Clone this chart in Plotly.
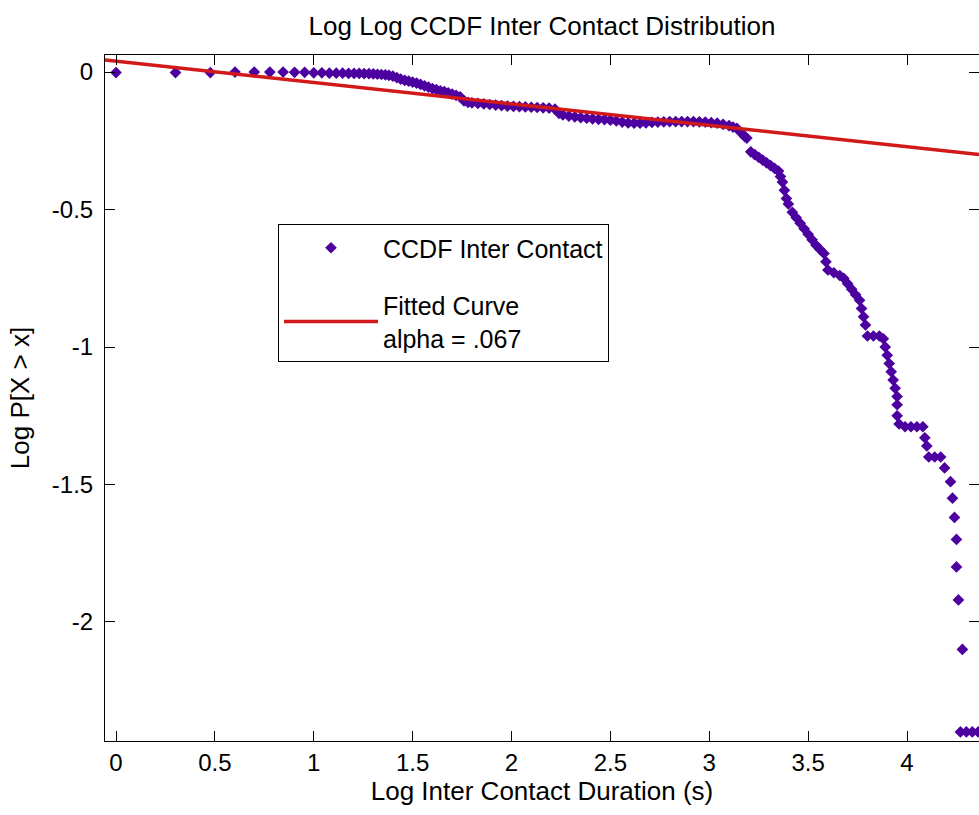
import plotly.graph_objects as go

# ---- data ----
ccdf_log_x = [
    0.0, 0.301, 0.477, 0.602, 0.699, 0.778, 0.845, 0.903, 0.954,
    1.0, 1.041, 1.079, 1.114, 1.146, 1.176, 1.204, 1.23, 1.255, 1.279,
    1.301, 1.322, 1.342, 1.362, 1.38, 1.40, 1.42, 1.44, 1.46, 1.48,
    1.50, 1.52, 1.54, 1.56, 1.58, 1.60, 1.62, 1.64, 1.66, 1.68,
    1.70, 1.72, 1.74, 1.76, 1.78, 1.80, 1.83, 1.86, 1.89, 1.92,
    1.95, 1.98, 2.01, 2.04, 2.07, 2.10, 2.13, 2.16, 2.19, 2.22,
    2.24, 2.26, 2.29, 2.32, 2.35, 2.38, 2.41, 2.44, 2.47, 2.50,
    2.53, 2.56, 2.59, 2.62, 2.65, 2.68, 2.71, 2.74, 2.77, 2.80,
    2.83, 2.86, 2.89, 2.92, 2.95, 2.98, 3.01, 3.04, 3.07, 3.10,
    3.12, 3.14, 3.16, 3.18, 3.19, 3.21, 3.23, 3.25, 3.27, 3.29,
    3.31, 3.33, 3.35, 3.36, 3.37, 3.38, 3.39, 3.40, 3.42, 3.44,
    3.46, 3.48, 3.50, 3.52, 3.54, 3.56, 3.58, 3.59, 3.60, 3.63,
    3.66, 3.68, 3.70, 3.72, 3.74, 3.76, 3.77, 3.78, 3.79, 3.80,
    3.83, 3.86, 3.88, 3.89, 3.90, 3.91, 3.92, 3.93, 3.94, 3.95,
    3.95, 3.95, 3.96, 3.99, 4.02, 4.05, 4.08, 4.09, 4.10, 4.11,
    4.14, 4.17, 4.19, 4.22, 4.23, 4.24, 4.25, 4.25, 4.26, 4.28,
    4.27, 4.30, 4.33, 4.36,
]
ccdf_log_p = [
    -0.002, -0.002, -0.002, 0.0, 0.0, 0.0, 0.0, -0.001, -0.001,
    -0.003, -0.003, -0.004, -0.004, -0.004, -0.005, -0.005, -0.005, -0.006, -0.006,
    -0.007, -0.008, -0.009, -0.010, -0.012, -0.015, -0.020, -0.026, -0.030, -0.033,
    -0.037, -0.040, -0.045, -0.050, -0.055, -0.060, -0.064, -0.068, -0.071, -0.076,
    -0.080, -0.085, -0.090, -0.105, -0.110, -0.112, -0.114, -0.116, -0.118, -0.120,
    -0.122, -0.124, -0.125, -0.126, -0.127, -0.128, -0.129, -0.130, -0.131, -0.135,
    -0.150, -0.156, -0.160, -0.163, -0.166, -0.168, -0.170, -0.172, -0.173, -0.175,
    -0.178, -0.182, -0.185, -0.186, -0.186, -0.185, -0.183, -0.182, -0.181, -0.180,
    -0.180, -0.180, -0.180, -0.180, -0.181, -0.182, -0.184, -0.186, -0.190, -0.195,
    -0.200, -0.205, -0.220, -0.235, -0.240, -0.290, -0.300, -0.310, -0.320, -0.330,
    -0.340, -0.350, -0.360, -0.380, -0.400, -0.430, -0.460, -0.480, -0.510, -0.530,
    -0.550, -0.570, -0.590, -0.610, -0.630, -0.645, -0.660, -0.690, -0.720, -0.730,
    -0.740, -0.750, -0.770, -0.790, -0.810, -0.830, -0.860, -0.890, -0.920, -0.960,
    -0.960, -0.960, -0.970, -1.000, -1.030, -1.060, -1.090, -1.120, -1.150, -1.180,
    -1.210, -1.250, -1.280, -1.290, -1.290, -1.290, -1.290, -1.330, -1.360, -1.400,
    -1.400, -1.400, -1.440, -1.490, -1.550, -1.620, -1.700, -1.800, -1.920, -2.100,
    -2.400, -2.400, -2.400, -2.400,
]
fit_log_x = [-0.0556, 4.364]
fit_log_p = [0.044, -0.300]

x_tick_vals = [0, 0.5, 1, 1.5, 2, 2.5, 3, 3.5, 4]
x_tick_text = ["0", "0.5", "1", "1.5", "2", "2.5", "3", "3.5", "4"]
y_tick_vals = [-2, -1.5, -1, -0.5, 0]
y_tick_text = ["-2", "-1.5", "-1", "-0.5", "0"]
x_range = [-0.0556, 4.364]
y_range = [-2.433, 0.062]

FONT = "Liberation Sans, Arial, sans-serif"

fig = go.Figure()
fig.add_trace(go.Scatter(
    x=ccdf_log_x, y=ccdf_log_p, mode="markers", name="CCDF Inter Contact",
    legendgroup="ccdf",
    marker=dict(symbol="diamond", size=9, color="rgb(77,0,160)", line=dict(width=0)),
))
fig.add_trace(go.Scatter(
    x=fit_log_x, y=fit_log_p, mode="lines", name="Fitted Curve<br>alpha = .067",
    legendgroup="fit",
    line=dict(color="rgb(210,25,25)", width=3.5),
))
# invisible helper trace so the right-hand tick axis is drawn
fig.add_trace(go.Scatter(
    x=fit_log_x, y=fit_log_p, mode="lines", yaxis="y2", showlegend=False,
    hoverinfo="skip", line=dict(width=0, color="rgba(0,0,0,0)"),
))

fig.update_layout(
    width=979, height=815,
    margin=dict(l=105, r=0, t=55, b=74),
    paper_bgcolor="white", plot_bgcolor="white",
    font=dict(family=FONT, size=24, color="black"),
    title=dict(text="Log Log CCDF Inter Contact Distribution",
               x=0.5, xref="paper", xanchor="center",
               y=1 - 26 / 815, yref="container", yanchor="middle",
               font=dict(size=26)),
    xaxis=dict(range=x_range, tickvals=x_tick_vals, ticktext=x_tick_text,
               showgrid=False, zeroline=False, showline=True, linecolor="black",
               linewidth=1, mirror="ticks", ticks="inside", ticklen=10,
               tickcolor="black", tickwidth=1,
               title=dict(text="Log Inter Contact Duration (s)", font=dict(size=26), standoff=0)),
    yaxis=dict(range=y_range, tickvals=y_tick_vals, ticktext=y_tick_text,
               showgrid=False, zeroline=False, showline=True, linecolor="black",
               linewidth=1, mirror=False, ticks="inside", ticklen=10,
               tickcolor="black", tickwidth=1, ticklabelstandoff=6,
               title=dict(text="Log P[X > x]", font=dict(size=26), standoff=14)),
    yaxis2=dict(range=y_range, overlaying="y", side="right", tickvals=y_tick_vals,
                showticklabels=False, showgrid=False, zeroline=False, showline=False,
                ticks="inside", ticklen=10, tickcolor="black", tickwidth=1),
    legend=dict(x=(278 - 105) / 874, y=(741 - 224) / 686, xanchor="left", yanchor="top",
                bgcolor="white", bordercolor="black", borderwidth=1,
                font=dict(size=25), itemwidth=94, tracegroupgap=22),
    showlegend=True,
)

fig.write_html("out.html")
